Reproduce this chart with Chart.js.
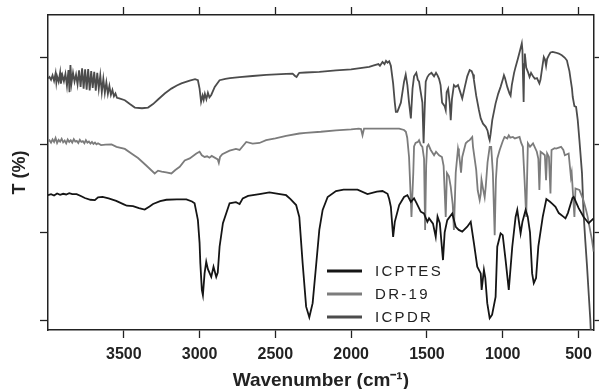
<!DOCTYPE html>
<html>
<head>
<meta charset="utf-8">
<script src="https://cdn.jsdelivr.net/npm/chart.js@4.4.1/dist/chart.umd.min.js"></script>
<style>
  html, body { margin: 0; padding: 0; background: #fff; }
  canvas { display: block; }
</style>
</head>
<body>
<canvas id="ftir" width="599" height="389"></canvas>
<script>
// wavenumber ticks and transmittance ticks (offset scale, labels hidden)
var xTicks = [3500, 3000, 2500, 2000, 1500, 1000, 500];
var yTicks = [0, 25, 50, 75];

var seriesNames = ['ICPTES', 'DR-19', 'ICPDR'];
var seriesColors = ['#151515', '#7c7c7c', '#4c4c4c'];

var icptesWave = [4000, 3980, 3960, 3940, 3920, 3900, 3880, 3860, 3840, 3811, 3780, 3757, 3720, 3691, 3670, 3640,
  3600, 3550, 3500, 3480, 3439, 3400, 3362, 3330, 3307, 3260, 3219, 3150, 3087, 3050, 3033, 3020,
  3011, 3000, 2995, 2985, 2978, 2967, 2956, 2945, 2923, 2908, 2890, 2880, 2868, 2846, 2802, 2760,
  2736, 2715, 2680, 2605, 2539, 2480, 2429, 2400, 2363, 2342, 2320, 2297, 2276, 2254, 2232, 2210,
  2188, 2155, 2100, 2050, 1958, 1892, 1830, 1793, 1760, 1749, 1738, 1723, 1712, 1683, 1651, 1629,
  1606, 1585, 1570, 1541, 1520, 1497, 1486, 1460, 1442, 1430, 1415, 1394, 1383, 1366, 1333, 1310,
  1290, 1267, 1234, 1211, 1190, 1168, 1145, 1139, 1124, 1115, 1102, 1086, 1079, 1070, 1047, 1036,
  1014, 1000, 981, 960, 937, 915, 904, 882, 870, 849, 835, 820, 806, 795, 780, 765,
  736, 712, 690, 674, 652, 630, 600, 586, 570, 554, 540, 532, 520, 499, 466, 433, 400];
var icptesT = [35.6, 35.9, 35.5, 36.1, 35.7, 36.0, 35.8, 36.2, 35.9, 35.9, 35.3, 34.8, 34.3, 34.2, 35.0, 35.1,
  34.7, 34.0, 33.0, 32.6, 32.5, 31.9, 31.5, 32.4, 33.1, 33.9, 34.3, 34.4, 34.4, 33.8, 33.3, 30.5,
  28.5, 22.0, 16.2, 8.6, 7.1, 13.3, 16.6, 14.5, 12.3, 15.2, 12.3, 13.5, 20.9, 27.6, 33.3, 33.6,
  33.1, 34.7, 35.4, 35.9, 36.4, 36.0, 35.6, 34.5, 32.8, 29.4, 16.2, 3.8, 0.8, 4.8, 15.2, 25.7,
  31.4, 35.1, 36.8, 37.2, 37.2, 35.9, 36.6, 36.8, 36.0, 34.5, 32.3, 23.7, 28.0, 32.8, 35.1, 35.6,
  33.7, 34.7, 33.5, 30.9, 30.4, 28.0, 29.0, 27.5, 23.7, 29.5, 27.6, 17.1, 25.0, 28.5, 30.4, 26.6,
  25.7, 25.2, 26.6, 28.0, 21.9, 15.2, 13.3, 8.6, 14.3, 12.0, 4.8, 0.5, 0.9, 1.5, 6.6, 20.9,
  24.7, 24.2, 17.1, 8.6, 20.9, 29.4, 31.4, 24.7, 28.0, 31.4, 29.5, 25.0, 13.3, 10.5, 12.0, 21.0,
  29.4, 34.5, 33.8, 33.2, 32.3, 30.5, 29.5, 29.0, 30.5, 32.8, 34.8, 35.1, 34.0, 31.9, 29.4, 27.6, 29.0];

var dr19Wave = [4000, 3990, 3980, 3970, 3960, 3950, 3940, 3930, 3920, 3910, 3900, 3890, 3880, 3870, 3860, 3850,
  3840, 3830, 3820, 3810, 3800, 3790, 3780, 3770, 3760, 3750, 3740, 3730, 3720, 3710, 3700, 3690,
  3680, 3670, 3650, 3620, 3581, 3548, 3493, 3440, 3406, 3350, 3296, 3274, 3250, 3220, 3186, 3160,
  3131, 3098, 3065, 3021, 3000, 2985, 2967, 2950, 2935, 2920, 2880, 2873, 2865, 2850, 2802, 2760,
  2736, 2692, 2650, 2605, 2561, 2500, 2429, 2342, 2300, 2200, 2100, 2000, 1950, 1935, 1925, 1915,
  1850, 1750, 1683, 1651, 1639, 1630, 1618, 1607, 1602, 1590, 1585, 1575, 1560, 1552, 1541, 1530,
  1519, 1512, 1505, 1499, 1490, 1475, 1453, 1440, 1420, 1401, 1390, 1376, 1368, 1355, 1343, 1330,
  1322, 1310, 1295, 1289, 1282, 1275, 1267, 1244, 1230, 1218, 1201, 1196, 1175, 1165, 1152, 1145,
  1140, 1130, 1119, 1112, 1100, 1086, 1076, 1065, 1053, 1045, 1036, 1020, 1000, 988, 970, 960,
  950, 933, 920, 904, 889, 878, 867, 856, 845, 834, 820, 800, 775, 765, 758, 750,
  735, 722, 714, 707, 695, 685, 678, 658, 648, 615, 600, 590, 565, 550, 545, 527,
  520, 494, 470, 451, 440, 425, 411, 400];
var dr19T = [51.0, 51.3, 50.6, 51.5, 50.8, 51.9, 50.5, 51.4, 50.9, 51.7, 50.7, 51.2, 50.4, 51.5, 50.8, 51.3,
  50.6, 51.6, 50.9, 51.1, 50.5, 51.4, 50.8, 51.0, 50.4, 51.3, 50.6, 50.9, 50.3, 50.8, 50.2, 50.6,
  50.1, 50.4, 49.9, 50.0, 50.1, 49.4, 48.8, 47.2, 46.2, 44.0, 41.8, 42.6, 42.3, 42.1, 41.8, 42.8,
  43.7, 45.5, 46.1, 47.5, 48.0, 47.0, 46.5, 46.7, 46.3, 46.8, 45.8, 44.8, 46.5, 47.3, 48.3, 48.8,
  48.5, 50.8, 50.3, 50.5, 51.3, 51.8, 52.5, 53.2, 53.4, 53.7, 54.1, 54.4, 54.6, 54.5, 52.7, 54.6,
  54.6, 54.6, 54.6, 54.2, 53.7, 52.0, 46.5, 35.0, 29.4, 42.0, 49.5, 50.5, 50.8, 51.3, 50.0, 49.4,
  46.0, 25.7, 44.0, 49.4, 50.0, 48.5, 47.0, 48.0, 47.0, 46.5, 44.0, 29.4, 41.9, 41.0, 38.0, 33.0,
  25.7, 42.0, 48.9, 47.5, 45.0, 42.0, 46.5, 50.4, 51.0, 51.3, 52.2, 49.4, 42.8, 37.0, 34.2, 36.0,
  40.0, 37.5, 35.0, 38.0, 45.0, 49.4, 49.4, 42.0, 24.2, 40.0, 46.0, 48.5, 51.0, 52.2, 51.8, 52.7,
  52.0, 52.2, 51.8, 52.0, 52.2, 50.5, 49.4, 40.0, 29.4, 50.4, 49.4, 50.4, 48.0, 46.0, 37.1, 48.0,
  47.5, 47.0, 39.9, 47.5, 46.5, 36.1, 48.5, 49.0, 48.9, 49.4, 48.5, 47.0, 47.5, 40.8, 42.0, 29.4,
  37.5, 37.1, 34.5, 31.5, 29.5, 26.0, 22.8, 19.5];

var icpdrWave = [4000, 3990, 3980, 3970, 3960, 3950, 3945, 3940, 3930, 3920, 3915, 3905, 3895, 3885, 3875, 3865,
  3858, 3852, 3845, 3835, 3825, 3815, 3805, 3795, 3785, 3775, 3765, 3755, 3745, 3735, 3725, 3715,
  3705, 3695, 3685, 3675, 3665, 3655, 3645, 3635, 3625, 3615, 3605, 3595, 3585, 3575, 3565, 3555,
  3545, 3530, 3493, 3460, 3427, 3380, 3340, 3307, 3274, 3230, 3186, 3150, 3120, 3065, 3030, 3011,
  3000, 2990, 2980, 2973, 2965, 2955, 2945, 2935, 2923, 2900, 2868, 2830, 2800, 2736, 2650, 2560,
  2429, 2386, 2370, 2360, 2350, 2342, 2300, 2210, 2100, 2000, 1881, 1850, 1820, 1810, 1793, 1780,
  1770, 1760, 1749, 1738, 1723, 1712, 1705, 1695, 1672, 1651, 1640, 1629, 1618, 1606, 1595, 1585,
  1570, 1560, 1552, 1541, 1530, 1522, 1515, 1508, 1497, 1486, 1470, 1453, 1440, 1430, 1420, 1410,
  1400, 1383, 1376, 1370, 1360, 1350, 1343, 1335, 1322, 1310, 1295, 1280, 1267, 1250, 1234, 1218,
  1205, 1196, 1190, 1175, 1157, 1145, 1130, 1112, 1100, 1091, 1086, 1080, 1069, 1047, 1030, 1014,
  1000, 992, 985, 970, 955, 948, 940, 925, 915, 900, 885, 874, 870, 866, 862, 858,
  854, 845, 834, 823, 813, 800, 788, 774, 758, 751, 736, 729, 721, 714, 707, 696,
  685, 670, 652, 630, 610, 590, 576, 571, 560, 550, 543, 538, 527, 516, 505, 494,
  477, 466, 455, 444, 432, 422, 416];
var icpdrT = [68.9, 69.3, 68.5, 69.8, 68.2, 70.4, 67.8, 69.5, 68.0, 70.6, 67.4, 69.8, 68.1, 70.2, 66.8, 71.3,
  65.0, 72.7, 67.5, 70.5, 68.0, 70.0, 67.2, 71.2, 66.5, 71.8, 66.0, 71.5, 65.7, 71.6, 65.5, 71.0,
  66.2, 70.8, 65.4, 70.5, 66.0, 69.8, 65.0, 68.8, 64.8, 67.8, 64.5, 66.8, 64.2, 65.6, 63.8, 64.6,
  63.4, 63.2, 62.7, 61.6, 60.6, 60.4, 60.6, 61.6, 62.9, 64.6, 66.0, 66.9, 67.5, 68.3, 68.7, 68.4,
  66.0, 62.2, 64.0, 62.8, 64.5, 63.0, 64.8, 63.5, 64.2, 66.5, 68.4, 68.8, 69.0, 69.3, 69.6, 69.9,
  70.2, 70.3, 69.6, 69.3, 70.0, 70.5, 70.6, 70.8, 71.2, 71.5, 72.2, 72.6, 73.0, 72.5, 73.6, 73.0,
  73.9, 73.4, 73.8, 72.5, 67.5, 62.0, 59.4, 59.4, 62.0, 68.0, 70.0, 67.0, 62.0, 57.5, 66.0, 69.5,
  70.5, 68.5, 68.0, 65.0, 62.0, 50.4, 60.0, 68.0, 69.3, 70.0, 70.5, 69.5, 70.5, 69.8, 68.8, 67.0,
  62.0, 61.0, 59.9, 65.0, 66.0, 62.0, 57.0, 63.0, 67.0, 66.5, 67.0, 65.0, 63.2, 66.5, 69.5, 71.3,
  71.0, 70.0, 68.5, 64.0, 59.9, 57.5, 56.0, 55.1, 54.0, 52.0, 51.3, 53.0, 57.0, 61.8, 64.5, 66.5,
  68.5, 69.8, 69.0, 66.5, 64.6, 64.0, 67.0, 70.5, 72.2, 74.5, 77.0, 78.9, 77.0, 69.0, 62.2, 73.0,
  76.0, 72.0, 70.8, 69.3, 70.5, 69.5, 68.8, 69.0, 67.5, 68.5, 73.0, 75.0, 74.3, 72.5, 74.5, 75.5,
  76.3, 76.5, 76.3, 76.0, 75.5, 74.8, 74.0, 73.0, 71.0, 68.0, 66.0, 63.6, 61.0, 60.8, 57.0, 51.3,
  41.9, 30.0, 22.5, 15.5, 7.0, 0.0, -6.0];

function toPoints(wave, t) {
  return wave.map(function (w, i) { return { x: w, y: t[i] }; });
}

var fontFamily = '"Liberation Sans", Arial, sans-serif';
var axisColor = '#222';

// legend drawn inside the plot, lower middle
var insideLegend = {
  id: 'insideLegend',
  afterDatasetsDraw: function (chart) {
    var ctx = chart.ctx;
    var x0 = 327, y0 = 271, gap = 23, len = 35;
    ctx.save();
    ctx.font = '15px ' + fontFamily;
    ctx.textBaseline = 'middle';
    ctx.letterSpacing = '2.3px';
    chart.data.datasets.forEach(function (ds, i) {
      var y = y0 + i * gap;
      ctx.strokeStyle = ds.borderColor;
      ctx.lineWidth = 3;
      ctx.beginPath();
      ctx.moveTo(x0, y);
      ctx.lineTo(x0 + len, y);
      ctx.stroke();
      ctx.fillStyle = '#222';
      ctx.fillText(ds.label, x0 + 48, y + 1);
    });
    ctx.restore();
  }
};

function tickGrid() {
  return { drawOnChartArea: false, drawTicks: true, tickLength: 8, tickColor: axisColor, tickWidth: 1.3 };
}

new Chart(document.getElementById('ftir'), {
  type: 'line',
  data: {
    datasets: [
      { label: seriesNames[0], data: toPoints(icptesWave, icptesT), borderColor: seriesColors[0] },
      { label: seriesNames[1], data: toPoints(dr19Wave, dr19T), borderColor: seriesColors[1] },
      { label: seriesNames[2], data: toPoints(icpdrWave, icpdrT), borderColor: seriesColors[2] }
    ]
  },
  options: {
    responsive: false,
    animation: false,
    layout: { padding: 0 },
    elements: {
      point: { radius: 0 },
      line: { borderWidth: 1.8, tension: 0 }
    },
    plugins: { legend: { display: false }, tooltip: { enabled: false } },
    scales: {
      x: {
        type: 'linear', position: 'bottom', reverse: true, min: 400, max: 4000,
        afterBuildTicks: function (s) { s.ticks = xTicks.map(function (v) { return { value: v }; }); },
        afterFit: function (s) { s.height = 59; },
        grid: tickGrid(),
        border: { display: true, color: axisColor, width: 1.5 },
        ticks: {
          color: axisColor, padding: 7, maxRotation: 0, autoSkip: false,
          font: { family: fontFamily, size: 16, weight: 'bold' },
          callback: function (v) { return String(v); }
        },
        title: {
          display: true, text: 'Wavenumber (cm\u207B\u00B9)', color: axisColor,
          font: { family: fontFamily, size: 19, weight: 'bold', lineHeight: 1 },
          padding: { top: 0, bottom: -1 }
        }
      },
      x2: {
        type: 'linear', position: 'top', reverse: true, min: 400, max: 4000,
        afterBuildTicks: function (s) { s.ticks = xTicks.map(function (v) { return { value: v }; }); },
        afterFit: function (s) { s.height = 15; },
        grid: tickGrid(),
        border: { display: true, color: axisColor, width: 1.5 },
        ticks: { display: false }
      },
      y: {
        type: 'linear', position: 'left', min: -2.85, max: 87,
        afterBuildTicks: function (s) { s.ticks = yTicks.map(function (v) { return { value: v }; }); },
        afterFit: function (s) { s.width = 48; },
        grid: tickGrid(),
        border: { display: true, color: axisColor, width: 1.5 },
        ticks: { display: false },
        title: {
          display: true, text: 'T (%)', color: axisColor,
          font: { family: fontFamily, size: 18, weight: 'bold', lineHeight: 1 },
          padding: { top: 11, bottom: 0 }
        }
      },
      y2: {
        type: 'linear', position: 'right', min: -2.85, max: 87,
        afterBuildTicks: function (s) { s.ticks = yTicks.map(function (v) { return { value: v }; }); },
        afterFit: function (s) { s.width = 4; },
        grid: tickGrid(),
        border: { display: true, color: axisColor, width: 1.5 },
        ticks: { display: false }
      }
    }
  },
  plugins: [insideLegend]
});
</script>
</body>
</html>
